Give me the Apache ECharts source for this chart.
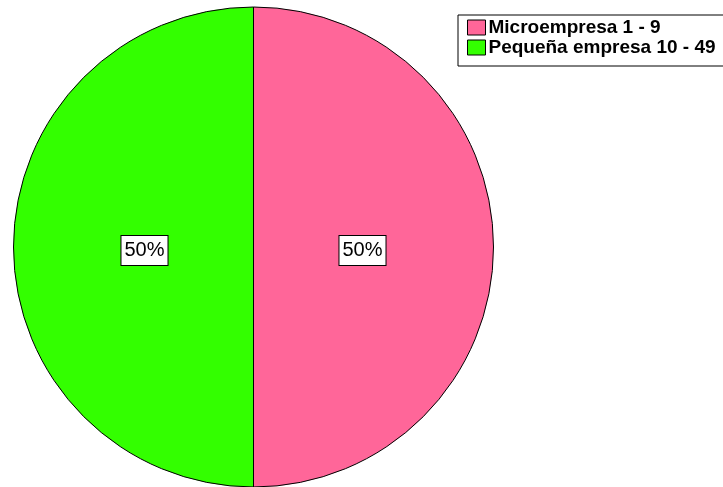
<!DOCTYPE html>
<html>
<head>
<meta charset="utf-8">
<script src="https://cdn.jsdelivr.net/npm/echarts@6/dist/echarts.min.js"></script>
<style>html,body{margin:0;padding:0;background:#fff;}#c{width:723px;height:487px;}</style>
</head>
<body>
<div id="c"></div>
<script>
const categories = ['Microempresa 1 - 9', 'Pequeña empresa 10 - 49'];
const values = [50, 50];
const colors = ['#FF6699', '#33FF00'];

const data = categories.map((n, i) => ({ name: n, value: values[i], itemStyle: { color: colors[i] } }));
const chart = echarts.init(document.getElementById('c'));
chart.setOption({
  animation: false,
  backgroundColor: '#fff',
  legend: {
    orient: 'vertical',
    left: 458,
    top: 15,
    padding: [3, 30, 9, 9],
    itemGap: 1,
    itemWidth: 18,
    itemHeight: 15,
    borderColor: '#000',
    borderWidth: 1,
    backgroundColor: '#fff',
    icon: 'rect',
    itemStyle: { borderColor: '#000', borderWidth: 1 },
    textStyle: { fontFamily: 'Liberation Sans, Arial, sans-serif', fontSize: 19, fontWeight: 'bold', color: '#000', padding: [0, 0, 0, -2], lineHeight: 18 },
    data: categories
  },
  series: [
    {
      type: 'pie',
      center: [253.5, 247],
      radius: 240,
      startAngle: 90,
      clockwise: true,
      silent: true,
      label: { show: false },
      labelLine: { show: false },
      itemStyle: { borderColor: '#000', borderWidth: 1 },
      data: data
    },
    {
      type: 'pie',
      center: [253.5, 250.5],
      radius: 212,
      startAngle: 90,
      clockwise: true,
      silent: true,
      legendHoverLink: false,
      itemStyle: { color: 'rgba(0,0,0,0)', borderWidth: 0 },
      label: {
        show: true,
        position: 'inside',
        formatter: p => Math.round(p.percent) + '%',
        fontFamily: 'Liberation Sans, Arial, sans-serif',
        fontSize: 20,
        color: '#000',
        backgroundColor: '#fff',
        borderColor: '#000',
        borderWidth: 1,
        padding: [5, 3, 4, 3]
      },
      labelLine: { show: false },
      data: categories.map((n, i) => ({ name: n + ' ', value: values[i] }))
    }
  ]
});
</script>
</body>
</html>
